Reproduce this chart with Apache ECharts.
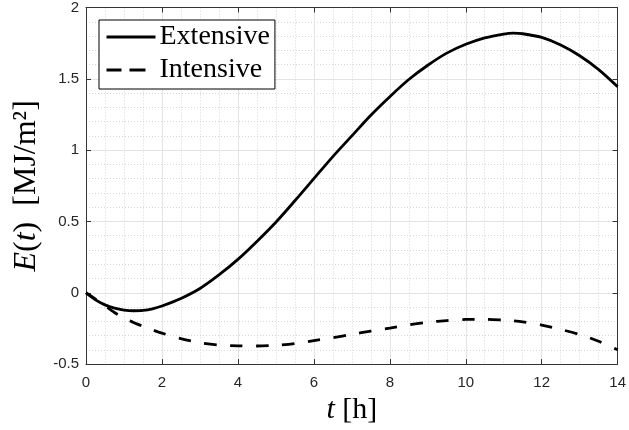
<!DOCTYPE html>
<html>
<head>
<meta charset="utf-8">
<script src="https://cdn.jsdelivr.net/npm/echarts@6/dist/echarts.min.js"></script>
<style>html,body{margin:0;padding:0;background:#fff;}#c{width:629px;height:430px;}</style>
</head>
<body>
<div id="c"></div>
<script>
const tValues = [0,0.25,0.5,0.75,1,1.25,1.5,1.75,2,2.5,3,3.5,4,4.5,5,5.5,6,6.5,7,7.5,8,8.5,9,9.5,10,10.5,11,11.25,11.5,12,12.5,13,13.5,14];
const extensive = [0,-0.05,-0.085,-0.108,-0.121,-0.126,-0.124,-0.113,-0.093,-0.04,0.03,0.125,0.234,0.36,0.495,0.645,0.80,0.955,1.10,1.245,1.375,1.495,1.595,1.68,1.742,1.787,1.814,1.82,1.816,1.79,1.737,1.662,1.565,1.445];
const intensive = [0,-0.045,-0.092,-0.138,-0.176,-0.208,-0.235,-0.26,-0.283,-0.322,-0.35,-0.366,-0.372,-0.373,-0.368,-0.356,-0.335,-0.315,-0.292,-0.268,-0.247,-0.225,-0.207,-0.195,-0.187,-0.186,-0.192,-0.197,-0.204,-0.226,-0.257,-0.293,-0.34,-0.40];
const seriesNames = ['Extensive','Intensive'];
const xTicks = {min:0, max:14, interval:2};
const yTicks = {min:-0.5, max:2, interval:0.5};

const pair = (xs, ys) => xs.map((x,i)=>[x, ys[i]]);
const axisColor = '#333333';
const tickFont = {fontFamily:'Liberation Sans, Arial, sans-serif', fontSize:15, color:'#262626'};
const serif = 'Liberation Serif, Times New Roman, serif';

const chart = echarts.init(document.getElementById('c'), null, {renderer:'canvas'});
chart.setOption({
  animation:false,
  backgroundColor:'#ffffff',
  grid:{left:86, right:6, top:7, bottom:65, containLabel:false},
  legend:{
    orient:'vertical', left:99, top:20,
    backgroundColor:'#ffffff', borderColor:'#000000', borderWidth:1,
    padding:[3,5,5,6], itemGap:5, itemWidth:49, itemHeight:28,
    itemStyle:{opacity:0, borderWidth:0},
    textStyle:{fontFamily:serif, fontSize:28, color:'#000', lineHeight:28, padding:[0,0,0,-1]},
    data:[
      {name:seriesNames[0], lineStyle:{type:'solid', width:3}},
      {name:seriesNames[1], lineStyle:{type:[15,8,16,40], width:3}}
    ]
  },
  xAxis:[{
    type:'value', min:xTicks.min, max:xTicks.max, interval:xTicks.interval,
    position:'bottom',
    axisLine:{show:true, onZero:false, lineStyle:{color:axisColor, width:1}},
    axisTick:{show:true, inside:true, length:5, lineStyle:{color:axisColor}},
    axisLabel:Object.assign({margin:11}, tickFont),
    splitLine:{show:true, lineStyle:{color:'#e3e3e3', width:1}},
    minorTick:{show:false, splitNumber:4},
    minorSplitLine:{show:true, lineStyle:{color:'#d6d6d6', width:1, type:[1,2]}},
    name:'{i|t}{r| [h]}', nameLocation:'middle', nameGap:27,
    nameTextStyle:{rich:{
      i:{fontFamily:serif, fontStyle:'italic', fontSize:30, color:'#000'},
      r:{fontFamily:serif, fontSize:30, color:'#000'}
    }}
  },{
    type:'value', min:xTicks.min, max:xTicks.max, interval:xTicks.interval,
    position:'top',
    axisLine:{show:true, onZero:false, lineStyle:{color:axisColor, width:1}},
    axisTick:{show:true, inside:true, length:5, lineStyle:{color:axisColor}},
    axisLabel:{show:false}, splitLine:{show:false}
  }],
  yAxis:[{
    type:'value', min:yTicks.min, max:yTicks.max, interval:yTicks.interval,
    position:'left',
    axisLine:{show:true, onZero:false, lineStyle:{color:axisColor, width:1}},
    axisTick:{show:true, inside:true, length:5, lineStyle:{color:axisColor}},
    axisLabel:Object.assign({margin:7}, tickFont),
    splitLine:{show:true, lineStyle:{color:'#e3e3e3', width:1}},
    minorTick:{show:false, splitNumber:5},
    minorSplitLine:{show:true, lineStyle:{color:'#d6d6d6', width:1, type:[1,2]}},
    name:'{i|E}{r|(}{i|t}{r|)  [MJ/m²]}', nameLocation:'middle', nameGap:34, nameRotate:90,
    nameTextStyle:{rich:{
      i:{fontFamily:serif, fontStyle:'italic', fontSize:32, color:'#000'},
      r:{fontFamily:serif, fontSize:32, color:'#000'}
    }}
  },{
    type:'value', min:yTicks.min, max:yTicks.max, interval:yTicks.interval,
    position:'right',
    axisLine:{show:true, onZero:false, lineStyle:{color:axisColor, width:1}},
    axisTick:{show:true, inside:true, length:5, lineStyle:{color:axisColor}},
    axisLabel:{show:false}, splitLine:{show:false}
  }],
  series:[{
    name:seriesNames[0], type:'line', xAxisIndex:0, yAxisIndex:0,
    data:pair(tValues, extensive), symbol:'none', smooth:0.3,
    lineStyle:{color:'#000', width:2.8, type:'solid'}, itemStyle:{color:'#000'}
  },{
    name:seriesNames[1], type:'line', xAxisIndex:0, yAxisIndex:0,
    data:pair(tValues, intensive), symbol:'none', smooth:0.3,
    lineStyle:{color:'#000', width:2.8, type:[12.5,13.5]}, itemStyle:{color:'#000'}
  }]
});
</script>
</body>
</html>
